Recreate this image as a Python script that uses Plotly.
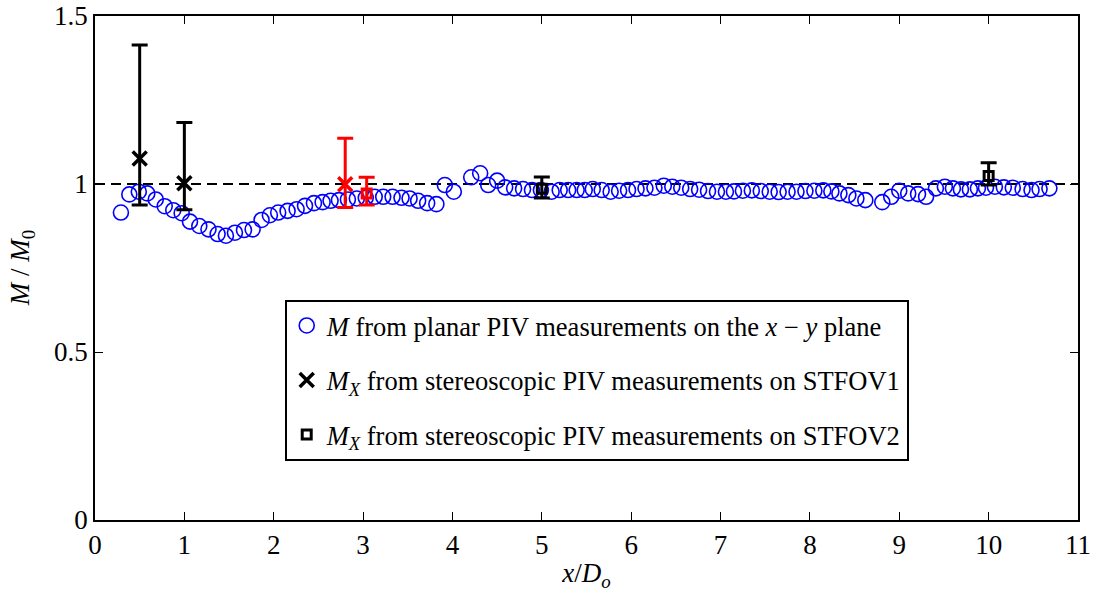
import plotly.graph_objects as go

# Planar PIV M/M0
x_planar = [0.29, 0.384, 0.49, 0.585, 0.68, 0.78, 0.876, 0.97, 1.063, 1.167,
            1.27, 1.372, 1.465, 1.566, 1.667, 1.764, 1.864, 1.957, 2.05, 2.155,
            2.256, 2.35, 2.45, 2.547, 2.636, 2.73, 2.83, 2.93, 3.03, 3.13,
            3.225, 3.33, 3.43, 3.52, 3.616, 3.717, 3.82, 3.915, 4.015,
            4.21, 4.31, 4.40, 4.50, 4.59, 4.69, 4.79, 4.89, 4.99, 5.11,
            5.20, 5.295, 5.39, 5.48, 5.57, 5.67, 5.77, 5.865, 5.965, 6.06,
            6.16, 6.26, 6.365, 6.46, 6.56, 6.66, 6.76, 6.86, 6.96, 7.06,
            7.15, 7.25, 7.35, 7.45, 7.55, 7.65, 7.75, 7.85, 7.95, 8.05,
            8.15, 8.24, 8.33, 8.43, 8.52, 8.62, 8.81, 8.91, 9.0, 9.1,
            9.21, 9.30, 9.41, 9.51, 9.6, 9.69, 9.79, 9.88, 9.97, 10.07,
            10.17, 10.27, 10.38, 10.48, 10.57, 10.68]
y_planar = [0.915, 0.969, 0.977, 0.972, 0.954, 0.934, 0.922, 0.913, 0.888, 0.875,
            0.865, 0.851, 0.846, 0.855, 0.863, 0.865, 0.893, 0.907, 0.915, 0.92,
            0.925, 0.935, 0.943, 0.946, 0.95, 0.952, 0.954, 0.957, 0.959, 0.962,
            0.962, 0.962, 0.959, 0.957, 0.95, 0.943, 0.94, 0.997, 0.977,
            1.02, 1.032, 0.997, 1.01, 0.99, 0.987, 0.985, 0.982, 0.982, 0.977,
            0.982, 0.982, 0.982, 0.982, 0.985, 0.982, 0.977, 0.98, 0.982, 0.985,
            0.987, 0.989, 0.995, 0.992, 0.989, 0.985, 0.983, 0.979, 0.977, 0.977,
            0.978, 0.98, 0.981, 0.979, 0.977, 0.976, 0.977, 0.977, 0.979, 0.98,
            0.981, 0.978, 0.972, 0.967, 0.957, 0.952, 0.946, 0.962, 0.98, 0.972,
            0.97, 0.962, 0.987, 0.992, 0.987, 0.984, 0.984, 0.987, 0.989, 0.992,
            0.99, 0.989, 0.985, 0.982, 0.985, 0.987]

# STFOV1 (black x) and red x
x_fov1 = [0.5, 1.0]
y_fov1 = [1.076, 1.002]
hi_fov1 = [1.414, 1.183]
lo_fov1 = [0.9375, 0.923]

x_fov1_red = [2.8]
y_fov1_red = [0.999]
hi_fov1_red = [1.136]
lo_fov1_red = [0.93]

# STFOV2 (black squares) and red square
x_fov2 = [5.0, 10.0]
y_fov2 = [0.986, 1.024]
hi_fov2 = [1.021, 1.063]
lo_fov2 = [0.958, 0.997]

x_fov2_red = [3.04]
y_fov2_red = [0.972]
hi_fov2_red = [1.02]
lo_fov2_red = [0.9375]

ref_level = 1.0
x_tick_vals = list(range(0, 12))
y_tick_vals = [0, 0.5, 1, 1.5]

FONT = "'Liberation Serif', 'Times New Roman', Times, serif"


def up(hi, y):
    return [h - v for h, v in zip(hi, y)]


def down(lo, y):
    return [v - l for l, v in zip(lo, y)]


fig = go.Figure()

fig.add_trace(go.Scatter(x=[0, 11], y=[ref_level, ref_level], mode="lines",
                         line=dict(color="black", width=2, dash="10px,6px"),
                         showlegend=False, hoverinfo="skip"))

fig.add_trace(go.Scatter(
    x=x_planar, y=y_planar, mode="markers",
    name="<i>M</i> from planar PIV measurements on the <i>x</i> − <i>y</i> plane",
    legendgroup="a",
    marker=dict(symbol="circle-open", size=15, color="#0000ff", line=dict(width=1.6, color="#0000ff"))))

fig.add_trace(go.Scatter(
    x=x_fov1, y=y_fov1, mode="markers",
    name="<i>M<sub>X</sub></i> from stereoscopic PIV measurements on STFOV1",
    legendgroup="b",
    marker=dict(symbol="x-thin-open", size=14, color="black", line=dict(width=3.5, color="black")),
    error_y=dict(type="data", symmetric=False, array=up(hi_fov1, y_fov1),
                 arrayminus=down(lo_fov1, y_fov1), color="black", thickness=3, width=8)))

fig.add_trace(go.Scatter(
    x=x_fov1_red, y=y_fov1_red, mode="markers", showlegend=False, legendgroup="b",
    marker=dict(symbol="x-thin-open", size=14, color="red", line=dict(width=3.5, color="red")),
    error_y=dict(type="data", symmetric=False, array=up(hi_fov1_red, y_fov1_red),
                 arrayminus=down(lo_fov1_red, y_fov1_red), color="red", thickness=3, width=8)))

fig.add_trace(go.Scatter(
    x=x_fov2, y=y_fov2, mode="markers",
    name="<i>M<sub>X</sub></i> from stereoscopic PIV measurements on STFOV2",
    legendgroup="c",
    marker=dict(symbol="square-open", size=9, color="black", line=dict(width=3, color="black")),
    error_y=dict(type="data", symmetric=False, array=up(hi_fov2, y_fov2),
                 arrayminus=down(lo_fov2, y_fov2), color="black", thickness=3, width=8)))

fig.add_trace(go.Scatter(
    x=x_fov2_red, y=y_fov2_red, mode="markers", showlegend=False, legendgroup="c",
    marker=dict(symbol="square-open", size=9, color="red", line=dict(width=3, color="red")),
    error_y=dict(type="data", symmetric=False, array=up(hi_fov2_red, y_fov2_red),
                 arrayminus=down(lo_fov2_red, y_fov2_red), color="red", thickness=3, width=8)))

axis_common = dict(showline=True, linecolor="black", linewidth=1.5, mirror="ticks",
                   ticks="inside", ticklen=8, tickwidth=1, tickcolor="black",
                   showgrid=False, zeroline=False, automargin=False,
                   tickfont=dict(family=FONT, size=27, color="black"))

fig.update_xaxes(range=[0, 11], tickvals=x_tick_vals, **axis_common,
                 title=dict(text="<i>x</i>/<i>D<sub>o</sub></i>",
                            font=dict(family=FONT, size=27, color="black"), standoff=4))
fig.update_yaxes(range=[0, 1.5], tickvals=y_tick_vals, **axis_common)

fig.add_annotation(text="<i>M</i> / <i>M</i><sub>0</sub>", textangle=-90,
                   xref="paper", yref="paper", x=-0.074, y=0.5,
                   xanchor="center", yanchor="middle", showarrow=False,
                   font=dict(family=FONT, size=27, color="black"))

fig.update_layout(
    width=1093, height=601,
    margin=dict(l=95, r=15, t=16, b=81),
    plot_bgcolor="white", paper_bgcolor="white",
    font=dict(family=FONT, size=26, color="black"),
    legend=dict(x=0.193, y=0.437, xanchor="left", yanchor="top",
                bgcolor="white", bordercolor="black", borderwidth=2,
                font=dict(family=FONT, size=26.5, color="black"),
                tracegroupgap=17, itemwidth=30),
)

fig.write_html("out.html")
